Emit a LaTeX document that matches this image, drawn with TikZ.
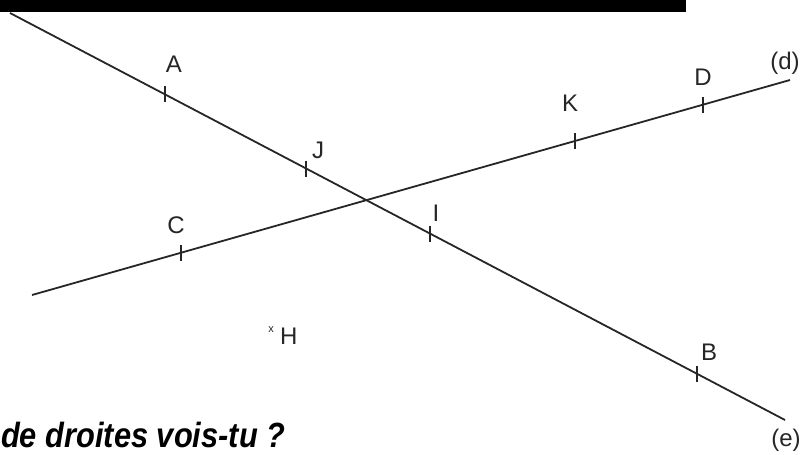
\documentclass[tikz,border=0pt]{standalone}
\usepackage{fontspec}
\setmainfont{Liberation Sans}
\usepackage{xcolor}
\usetikzlibrary{positioning}
\definecolor{ink}{RGB}{38,38,38}
\tikzset{
  droite/.style={line width=1.8pt,ink},
  graduation/.style={line width=1.8pt,ink},
  ptlabel/.style={font=\fontsize{24}{24}\selectfont,text=ink,inner sep=0pt},
  croix/.style={font=\fontsize{11}{11}\selectfont,text=ink,inner sep=0pt},
  question/.style={font=\fontsize{35}{35}\selectfont\bfseries\itshape,
    text=black,inner sep=0pt,anchor=base west,xscale=0.88}
}

\begin{document}
\begin{tikzpicture}[x=1pt,y=-1pt]
  \useasboundingbox (0,0) rectangle (803,455);
  \fill[black] (0,0) rectangle (686,12);
  % les deux droites
  \coordinate (e1) at (10,13);
  \coordinate (e2) at (785,420);
  \coordinate (d1) at (32,295);
  \coordinate (d2) at (790,80);
  \draw[droite] (e1) -- (e2);
  \draw[droite] (d1) -- (d2);
  % points marques
  \coordinate (A) at (165,94.4);
  \coordinate (J) at (306,168.5);
  \coordinate (I) at (430,233.6);
  \coordinate (B) at (697,373.8);
  \coordinate (C) at (181,252.7);
  \coordinate (K) at (575,141);
  \coordinate (D) at (703,104.7);
  \foreach \p in {A,J,I,B,C,K,D}
    \draw[graduation] ([yshift=8pt]\p) -- ([yshift=-8pt]\p);
  \node[ptlabel] (lA) at (174,64) {A};
  \node[ptlabel] (lJ) at (318,150) {J};
  \node[ptlabel] (lI) at (436,213) {I};
  \node[ptlabel] (lB) at (709,352) {B};
  \node[ptlabel] (lC) at (176,225) {C};
  \node[ptlabel] (lK) at (570,103) {K};
  \node[ptlabel] (lD) at (703,77) {D};
  \node[ptlabel] (ld) at (785,63) {(d)};
  \node[ptlabel] (le) at (786,440) {(e)};
  \node[croix] (H) at (271,330) {x};
  \node[ptlabel,right=6pt of H,yshift=-6pt] (lH) {H};
  \node[question] (q) at (1,447) {de droites vois-tu ?};
\end{tikzpicture}
\end{document}
